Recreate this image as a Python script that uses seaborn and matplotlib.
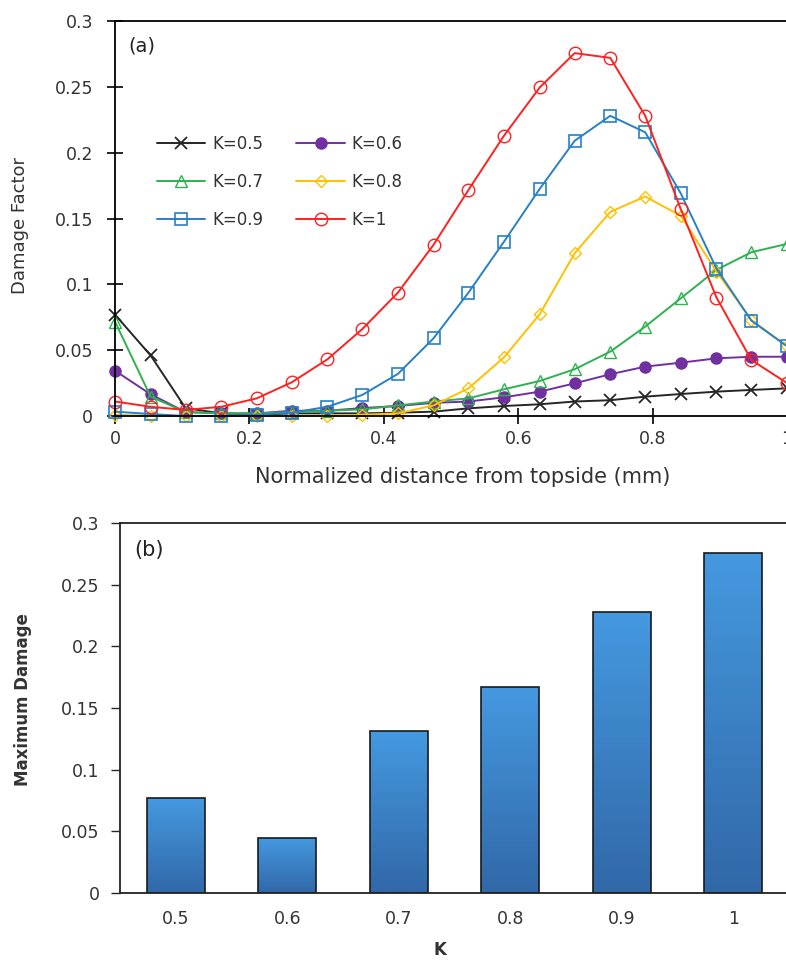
import numpy as np
import pandas as pd
import matplotlib
matplotlib.use("Agg")
import matplotlib.pyplot as plt
from matplotlib.ticker import FuncFormatter, MultipleLocator
from matplotlib.colors import LinearSegmentedColormap
import seaborn as sns

sns.set_style("ticks")
plt.rcParams['font.family'] = ['DejaVu Sans']

# ---------------- data ----------------
x_pos = [0.0, 0.053, 0.105, 0.158, 0.211, 0.263, 0.316, 0.368, 0.421, 0.474,
         0.526, 0.579, 0.632, 0.684, 0.737, 0.789, 0.842, 0.895, 0.947, 1.0]

k05 = [0.077, 0.046, 0.006, 0.002, 0.001, 0.002, 0.002, 0.002, 0.0025, 0.0033,
       0.0058, 0.0076, 0.0089, 0.011, 0.012, 0.0147, 0.0167, 0.0185, 0.0198, 0.021]
k06 = [0.0344, 0.0165, 0.003, 0.002, 0.002, 0.004, 0.004, 0.006, 0.0076, 0.010,
       0.011, 0.0142, 0.0185, 0.0248, 0.0317, 0.0375, 0.0405, 0.0438, 0.045, 0.045]
k07 = [0.0717, 0.0147, 0.003, 0.002, 0.002, 0.003, 0.004, 0.005, 0.008, 0.011,
       0.0134, 0.0203, 0.0266, 0.0355, 0.0489, 0.0679, 0.0894, 0.111, 0.1244, 0.1307]
k08 = [0.001, 0.0, 0.0, 0.0, 0.0, 0.0, 0.0, 0.001, 0.002, 0.008,
       0.021, 0.0446, 0.0773, 0.1236, 0.155, 0.1667, 0.152, 0.1097, 0.073, 0.053]
k09 = [0.0033, 0.0015, 0.0, 0.0, 0.001, 0.0025, 0.007, 0.016, 0.032, 0.059,
       0.0937, 0.1325, 0.1725, 0.209, 0.228, 0.2155, 0.169, 0.112, 0.0724, 0.053]
k10 = [0.011, 0.007, 0.0046, 0.007, 0.0134, 0.0256, 0.043, 0.066, 0.0937, 0.130,
       0.1717, 0.213, 0.2495, 0.2756, 0.272, 0.228, 0.157, 0.090, 0.0425, 0.025]

series_labels = ["K=0.5", "K=0.6", "K=0.7", "K=0.8", "K=0.9", "K=1"]

k_labels = ["0.5", "0.6", "0.7", "0.8", "0.9", "1"]
max_damage = [0.077, 0.045, 0.131, 0.167, 0.228, 0.276]

TXT = "#333333"

# ---------------- figure ----------------
fig = plt.figure(figsize=(7.86, 9.6), dpi=100)
ax1 = fig.add_axes([115/786, 1-416/960, 672/786, 395/960])
ax2 = fig.add_axes([120/786, 1-893/960, 669/786, 370/960])

styles = [
    dict(color="#262626", marker="x", ms=8, mew=1.3, mfc="none"),
    dict(color="#7030A0", marker="o", ms=8, mew=1.0, mfc="#7030A0"),
    dict(color="#2DB24F", marker="^", ms=8, mew=1.0, mfc="none"),
    dict(color="#FFC000", marker="D", ms=6, mew=1.0, mfc="none"),
    dict(color="#2680C8", marker="s", ms=8, mew=1.2, mfc="none"),
    dict(color="#FF2020", marker="o", ms=9, mew=1.0, mfc="none"),
]
all_series = [k05, k06, k07, k08, k09, k10]
for vals, lab, st in zip(all_series, series_labels, styles):
    sns.lineplot(x=x_pos, y=vals, ax=ax1, label=lab, linewidth=1.4,
                 color=st["color"], marker=st["marker"], markersize=st["ms"],
                 markeredgewidth=st["mew"], markerfacecolor=st["mfc"],
                 markeredgecolor=st["color"], clip_on=False)

ax1.set_xlim(0, 1)
ax1.set_ylim(0, 0.3)
ax1.xaxis.set_major_locator(MultipleLocator(0.2))
ax1.yaxis.set_major_locator(MultipleLocator(0.05))
fmt = FuncFormatter(lambda v, p: f"{round(v, 3):g}")
ax1.xaxis.set_major_formatter(fmt)
ax1.yaxis.set_major_formatter(fmt)
ax1.tick_params(direction="inout", length=11.5, width=1.2, labelsize=12.5,
                colors="black", labelcolor=TXT)
ax1.tick_params(axis="x", pad=4)
ax1.tick_params(axis="y", pad=10)
for s in ["left", "bottom", "top"]:
    ax1.spines[s].set_linewidth(1.3)
    ax1.spines[s].set_color("black")
ax1.spines["right"].set_visible(False)
ax1.set_xlabel("Normalized distance from topside (mm)", fontsize=15, color=TXT,
               ha="center", va="center")
ax1.xaxis.set_label_coords(0.518, -0.1544)
ax1.set_ylabel("Damage Factor", fontsize=13, color=TXT, ha="center", va="center")
ax1.yaxis.set_label_coords(-0.1414, 0.4835)
ax1.text(0.02, 0.96, "(a)", transform=ax1.transAxes, fontsize=14,
         va="top", ha="left", color="#222222")
h, l = ax1.get_legend_handles_labels()
order = [0, 2, 4, 1, 3, 5]
leg = ax1.legend([h[i] for i in order], [l[i] for i in order], ncol=2, frameon=False,
                 loc="upper left", bbox_to_anchor=(0.0625, 0.712), fontsize=12,
                 handlelength=2.9, columnspacing=2.0, labelspacing=1.2,
                 handletextpad=0.4, borderpad=0, borderaxespad=0)
for t in leg.get_texts():
    t.set_color(TXT)

# ---------------- bar panel ----------------
sns.barplot(x=k_labels, y=max_damage, ax=ax2, color="#3D8BD6", width=0.52,
            edgecolor="#1a1a1a", linewidth=1.2, saturation=1)
cmap = LinearSegmentedColormap.from_list("bluegrad", ["#3168A8", "#4599E0"])
grad = np.linspace(0, 1, 256).reshape(-1, 1)
for patch in ax2.patches:
    bx, by = patch.get_x(), patch.get_y()
    bw, bh = patch.get_width(), patch.get_height()
    im = ax2.imshow(grad, cmap=cmap, origin="lower", aspect="auto",
                    extent=[bx, bx + bw, by, by + bh], zorder=patch.get_zorder() - 0.1)
    im.set_clip_path(patch)
    patch.set_facecolor("none")
ax2.set_xlim(-0.5, 5.5)
ax2.set_ylim(0, 0.3)
ax2.yaxis.set_major_locator(MultipleLocator(0.05))
ax2.yaxis.set_major_formatter(fmt)
ax2.tick_params(axis="y", direction="out", length=6.5, width=1.0, labelsize=12.5,
                labelcolor=TXT, pad=8)
ax2.tick_params(axis="x", length=0, labelsize=12.5, labelcolor=TXT, pad=12)
for s in ["left", "bottom", "top"]:
    ax2.spines[s].set_linewidth(1.3)
    ax2.spines[s].set_color("#222222")
ax2.spines["right"].set_visible(False)
ax2.set_xlabel("K", fontsize=12, fontweight="bold", color=TXT, ha="center", va="center")
ax2.xaxis.set_label_coords(0.478, -0.154)
ax2.set_ylabel("Maximum Damage", fontsize=12, fontweight="bold", color=TXT,
               ha="center", va="center")
ax2.yaxis.set_label_coords(-0.145, 0.5216)
ax2.text(0.022, 0.955, "(b)", transform=ax2.transAxes, fontsize=15,
         va="top", ha="left", color="#222222")

fig.savefig("out.png", dpi=100)
